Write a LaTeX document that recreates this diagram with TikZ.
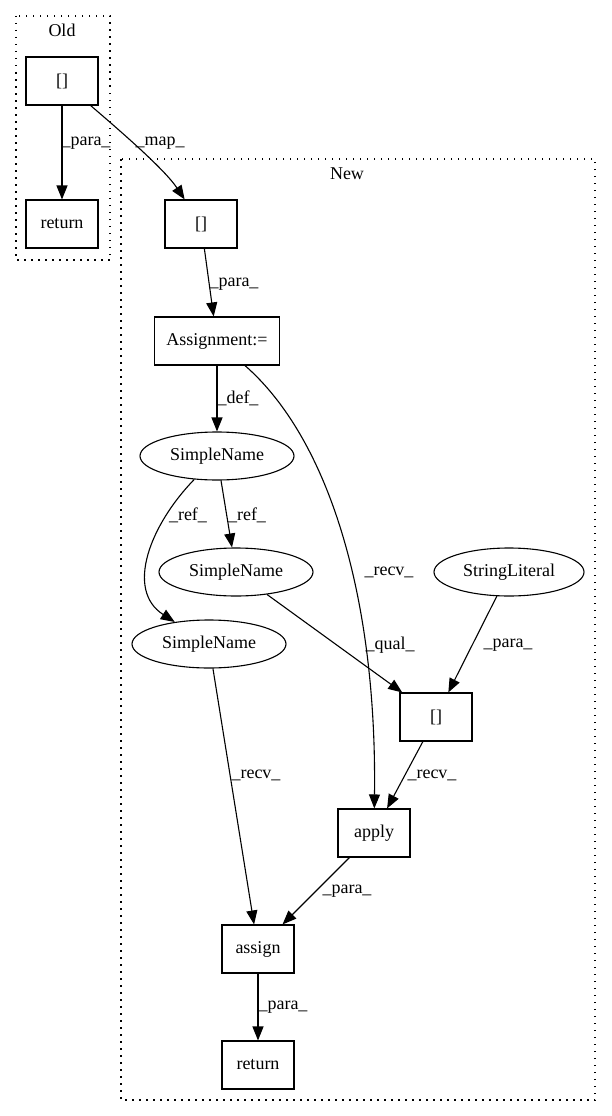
\documentclass[tikz,border=0pt]{standalone}
\usepackage{fontspec}
\setmainfont{Liberation Serif}
\usetikzlibrary{arrows.meta,shapes.geometric}

\begin{document}
\begin{tikzpicture}[x=1pt,y=-1pt]
    \tikzset{%
      box/.style={rectangle, draw, line width=1.1pt, minimum width=72pt,
        minimum height=48pt, inner xsep=12pt},
      oval/.style={ellipse, draw, line width=1.1pt, inner sep=0pt, minimum
        width=154pt, minimum height=48pt},
      lbl/.style={inner sep=0pt},
      cluster/.style={line width=1.2pt, dash pattern=on 1.5pt off 5.5pt},
      arr/.style={-{Triangle[length=14pt,width=11pt]}, line width=1.1pt},
      every node/.style={font=\fontsize{18}{20}\selectfont},
    }
    \useasboundingbox (0,0) rectangle (611,1116);
    % clusters
    \draw [cluster] (16,16) rectangle (110,260);
    \node[lbl] (oldT) at (62,30) {Old};
    \draw [cluster] (121,159) rectangle (595,1100);
    \node[lbl] (newT) at (347,174) {New};

    % old part
    \node[box] (oI) at (62,81) {[]};
    \node[box] (oR) at (62,224) {return};
    \draw [arr] (oI) -- (oR);
    \node[lbl] at (86,143) {\_para\_};

    % new part
    \node[box] (nI) at (201,224) {[]};
    \draw [arr] (oI) .. controls (125,135) and (165,170) .. (nI);
    \node[lbl] at (160,143) {\_map\_};

    \node[box] (As) at (217,341) {Assignment:=};
    \draw [arr] (nI) -- (As);
    \node[lbl] at (234,284) {\_para\_};

    \node[oval] (S1) at (217,456) {SimpleName};
    \draw [arr] (As) -- (S1);
    \node[lbl] at (238,398) {\_def\_};

    \node[oval] (S2) at (236,572) {SimpleName};
    \node[oval] (S3) at (209,644) {SimpleName};
    \node[oval, minimum width=150pt] (SL) at (509,572) {StringLiteral};
    \draw [arr] (S1) -- (S2);
    \node[lbl] at (247,515) {\_ref\_};
    \draw [arr] (S1) .. controls (150,525) and (125,590) .. (S3);
    \node[lbl] at (188,515) {\_ref\_};

    \node[box] (bI) at (436,717) {[]};
    \draw [arr] (S2) -- (bI);
    \node[lbl] at (390,645) {\_qual\_};
    \draw [arr] (SL) -- (bI);
    \node[lbl] at (508,645) {\_para\_};

    \node[box] (Ap) at (374,833) {apply};
    \draw [arr] (As) .. controls (330,440) and (377,600) .. (Ap);
    \node[lbl] at (389,572) {\_recv\_};
    \draw [arr] (bI) -- (Ap);
    \node[lbl] at (432,775) {\_recv\_};

    \node[box] (Sg) at (258,949) {assign};
    \draw [arr] (S3) -- (Sg);
    \node[lbl] at (256,775) {\_recv\_};
    \draw [arr] (Ap) -- (Sg);
    \node[lbl] at (347,891) {\_para\_};

    \node[box] (nR) at (258,1065) {return};
    \draw [arr] (Sg) -- (nR);
    \node[lbl] at (283,1007) {\_para\_};
\end{tikzpicture}
\end{document}
